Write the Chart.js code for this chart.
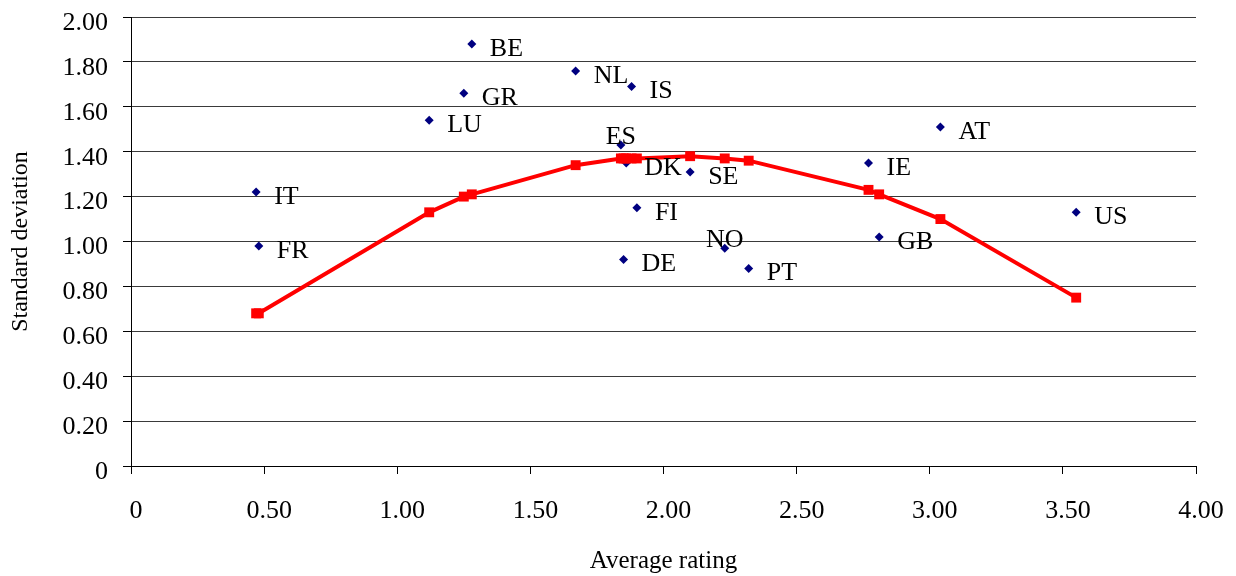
<!DOCTYPE html>
<html lang="en">
<head>
  <meta charset="UTF-8">
  <title>Average rating vs standard deviation</title>
  <script src="https://cdn.jsdelivr.net/npm/chart.js"></script>
  <style>
    html, body { margin: 0; padding: 0; background: #fff; }
    .chart { width: 1236px; height: 576px; }
  </style>
</head>
<body>
  <div class="chart">
    <canvas id="ratingChart"></canvas>
  </div>
  <script>
    // country codes and readings
    const countries = ['IT', 'FR', 'LU', 'GR', 'BE', 'NL', 'ES', 'DE', 'DK', 'IS', 'FI', 'SE', 'NO', 'PT', 'IE', 'GB', 'AT', 'US'];
    const avgRating = [0.47, 0.48, 1.12, 1.25, 1.28, 1.67, 1.84, 1.85, 1.86, 1.88, 1.90, 2.10, 2.23, 2.32, 2.77, 2.81, 3.04, 3.55];
    const stdDev    = [1.22, 0.98, 1.54, 1.66, 1.88, 1.76, 1.43, 0.92, 1.35, 1.69, 1.15, 1.31, 0.97, 0.88, 1.35, 1.02, 1.51, 1.13];
    // fitted curve, one value per country (same x)
    const fitted    = [0.68, 0.68, 1.13, 1.20, 1.21, 1.34, 1.37, 1.37, 1.37, 1.37, 1.37, 1.38, 1.37, 1.36, 1.23, 1.21, 1.10, 0.75];

    const xTicks = [0, 0.5, 1, 1.5, 2, 2.5, 3, 3.5, 4];
    const yTicks = [0, 0.2, 0.4, 0.6, 0.8, 1, 1.2, 1.4, 1.6, 1.8, 2];

    const aboveLabels = ['ES', 'NO']; // these two sit above their point

    const serif = 'Liberation Serif, Times New Roman, serif';

    const fmt = v => v === 0 ? '0' : v.toFixed(2);

    const countryLabels = {
      id: 'countryLabels',
      afterDatasetsDraw(chart) {
        const meta = chart.getDatasetMeta(0);
        const ctx = chart.ctx;
        ctx.save();
        ctx.font = '26px ' + serif;
        ctx.fillStyle = '#000';
        ctx.textBaseline = 'middle';
        meta.data.forEach((pt, i) => {
          const name = countries[i];
          if (aboveLabels.includes(name)) {
            ctx.textAlign = 'center';
            ctx.fillText(name, pt.x, pt.y - 8);
          } else {
            ctx.textAlign = 'left';
            ctx.fillText(name, pt.x + 18, pt.y + 5);
          }
        });
        ctx.restore();
      }
    };

    new Chart(document.getElementById('ratingChart'), {
      type: 'scatter',
      data: {
        datasets: [{
          label: 'Countries',
          data: avgRating.map((x, i) => ({ x: x, y: stdDev[i] })),
          pointStyle: 'rectRot',
          pointRadius: 4.5,
          backgroundColor: '#000080',
          borderColor: '#000080',
          borderWidth: 0,
          order: 1
        }, {
          label: 'Fit',
          type: 'line',
          showLine: true,
          data: avgRating.map((x, i) => ({ x: x, y: fitted[i] })),
          borderColor: '#ff0000',
          backgroundColor: '#ff0000',
          borderWidth: 4,
          pointStyle: 'rect',
          pointRadius: 7,
          pointBorderWidth: 0,
          tension: 0,
          fill: false,
          order: 0
        }]
      },
      options: {
        responsive: true,
        maintainAspectRatio: false,
        animation: false,
        layout: { padding: { top: 17, right: 40, left: 0, bottom: 0 } },
        plugins: {
          legend: { display: false },
          tooltip: { enabled: false }
        },
        scales: {
          x: {
            type: 'linear',
            min: 0,
            max: 4,
            afterBuildTicks: axis => { axis.ticks = xTicks.map(v => ({ value: v })); },
            afterFit: axis => {
              axis.height = 110;
              axis.paddingLeft = 0;
              axis.paddingRight = 0;
            },
            grid: {
              drawOnChartArea: false,
              drawTicks: true,
              tickLength: 8,
              color: '#000'
            },
            border: { color: '#000' },
            ticks: {
              padding: 22,
              labelOffset: 5,
              maxRotation: 0,
              color: '#000',
              font: { family: serif, size: 26 },
              callback: v => fmt(v)
            },
            title: {
              display: true,
              text: 'Average rating',
              color: '#000',
              font: { family: serif, size: 25 },
              padding: { top: 0, bottom: 0 }
            }
          },
          y: {
            type: 'linear',
            min: 0,
            max: 2,
            afterBuildTicks: axis => { axis.ticks = yTicks.map(v => ({ value: v })); },
            afterFit: axis => {
              axis.width = 131;
              axis.paddingTop = 0;
              axis.paddingBottom = 0;
            },
            grid: {
              color: '#3a3a3a',
              tickColor: '#000',
              tickLength: 8,
              lineWidth: 1
            },
            border: { color: '#000' },
            ticks: {
              padding: 15,
              labelOffset: 6,
              color: '#000',
              font: { family: serif, size: 26 },
              callback: v => fmt(v)
            },
            title: {
              display: true,
              text: 'Standard deviation',
              color: '#000',
              font: { family: serif, size: 24 },
              padding: { top: 6, bottom: 0 }
            }
          }
        }
      },
      plugins: [countryLabels]
    });
  </script>
</body>
</html>
